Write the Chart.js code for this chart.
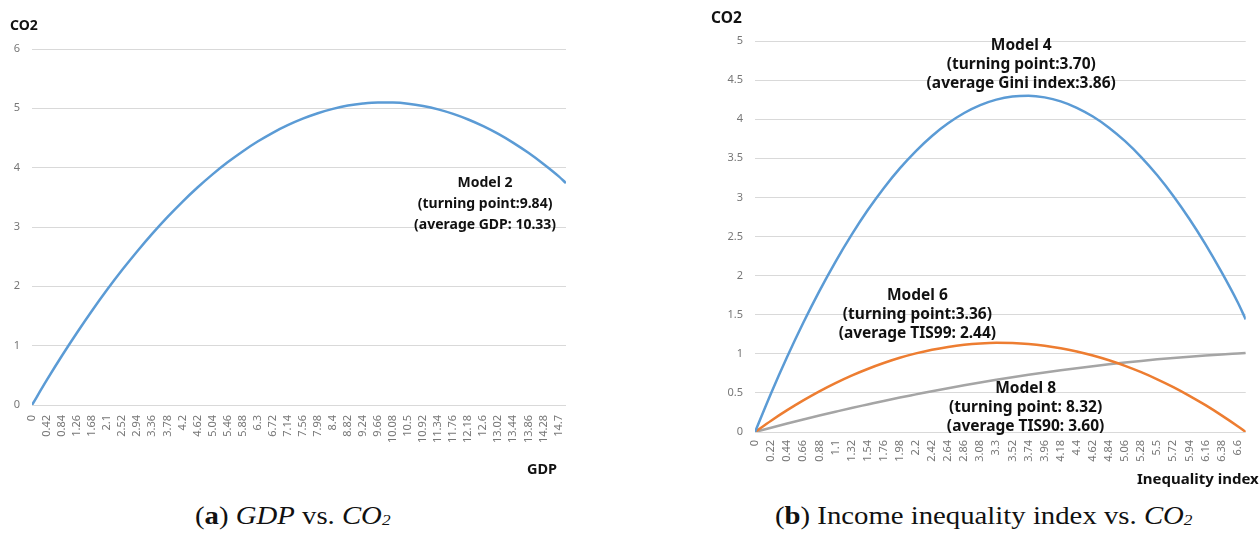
<!DOCTYPE html>
<html>
<head>
<meta charset="utf-8">
<script src="https://cdn.jsdelivr.net/npm/chart.js@4.4.1/dist/chart.umd.min.js"></script>
<style>
  html, body { margin: 0; padding: 0; background: #fff; }
  body { width: 1259px; height: 533px; position: relative; overflow: hidden; font-family: "Noto Sans", sans-serif; }
  canvas { position: absolute; top: 0; }
  .t { position: absolute; font-weight: bold; font-size: 14px; line-height: 18px; color: #111; white-space: nowrap; }
  .cap { position: absolute; top: 502px; font-family: "Liberation Serif", serif; font-size: 25px; line-height: 28px; color: #111; white-space: nowrap; transform: scaleX(1.15); transform-origin: left center; }
  .cap sub { font-size: 15px; vertical-align: -1px; }
</style>
</head>
<body>
<canvas id="gdpChart" width="600" height="500" style="left:0"></canvas>
<canvas id="ineqChart" width="599" height="500" style="left:660px"></canvas>

<div class="t" style="left:10px;top:16px">CO2</div>
<div class="t" style="left:527px;top:459px;font-size:14.5px">GDP</div>
<div class="t" style="left:711px;top:8px;font-size:15.5px">CO2</div>
<div class="t" style="left:1137px;top:469px;font-size:15px">Inequality index</div>

<div class="cap" style="left:195px">(<b>a</b>) <i>GDP</i> vs. <i>CO<sub>2</sub></i></div>
<div class="cap" style="left:775px">(<b>b</b>) Income inequality index vs. <i>CO<sub>2</sub></i></div>

<script>
// ---- Panel (a): GDP vs. CO2 ----
const gdpX = [0, 0.42, 0.84, 1.26, 1.68, 2.1, 2.52, 2.94, 3.36, 3.78, 4.2, 4.62, 5.04, 5.46, 5.88, 6.3,
  6.72, 7.14, 7.56, 7.98, 8.4, 8.82, 9.24, 9.66, 10.08, 10.5, 10.92, 11.34, 11.76, 12.18, 12.6,
  13.02, 13.44, 13.86, 14.28, 14.7, 14.91];
const model2 = [0, 0.426, 0.834, 1.222, 1.593, 1.945, 2.278, 2.592, 2.888, 3.166, 3.425, 3.665, 3.887,
  4.090, 4.274, 4.440, 4.588, 4.716, 4.826, 4.918, 4.991, 5.046, 5.081, 5.099, 5.097, 5.078, 5.039,
  4.982, 4.906, 4.812, 4.699, 4.568, 4.418, 4.250, 4.062, 3.857, 3.74];
const gdpTicks = [0, 0.42, 0.84, 1.26, 1.68, 2.1, 2.52, 2.94, 3.36, 3.78, 4.2, 4.62, 5.04, 5.46, 5.88, 6.3,
  6.72, 7.14, 7.56, 7.98, 8.4, 8.82, 9.24, 9.66, 10.08, 10.5, 10.92, 11.34, 11.76, 12.18, 12.6,
  13.02, 13.44, 13.86, 14.28, 14.7];
const gdpYTicks = [0, 1, 2, 3, 4, 5, 6];

// ---- Panel (b): income inequality index vs. CO2 ----
const ineqX = [0, 0.22, 0.44, 0.66, 0.88, 1.1, 1.32, 1.54, 1.76, 1.98, 2.2, 2.42, 2.64, 2.86, 3.08, 3.3,
  3.52, 3.74, 3.96, 4.18, 4.4, 4.62, 4.84, 5.06, 5.28, 5.5, 5.72, 5.94, 6.16, 6.38, 6.6, 6.71];
const model4 = [0, 0.496, 0.962, 1.397, 1.802, 2.177, 2.521, 2.835, 3.118, 3.371, 3.593, 3.786, 3.947,
  4.079, 4.180, 4.250, 4.290, 4.300, 4.279, 4.228, 4.146, 4.034, 3.892, 3.719, 3.516, 3.283, 3.019,
  2.724, 2.400, 2.044, 1.659, 1.44];
const model6 = [0, 0.145, 0.279, 0.404, 0.520, 0.625, 0.721, 0.806, 0.882, 0.949, 1.005, 1.052, 1.088,
  1.115, 1.132, 1.140, 1.137, 1.125, 1.103, 1.071, 1.029, 0.978, 0.917, 0.846, 0.765, 0.674, 0.574,
  0.463, 0.343, 0.213, 0.074, 0];
const model8 = [0, 0.055, 0.108, 0.160, 0.210, 0.259, 0.307, 0.352, 0.397, 0.440, 0.481, 0.522, 0.560,
  0.597, 0.633, 0.667, 0.700, 0.731, 0.761, 0.789, 0.816, 0.842, 0.866, 0.888, 0.909, 0.929, 0.947,
  0.963, 0.978, 0.992, 1.004, 1.010];
const ineqTicks = [0, 0.22, 0.44, 0.66, 0.88, 1.1, 1.32, 1.54, 1.76, 1.98, 2.2, 2.42, 2.64, 2.86, 3.08, 3.3,
  3.52, 3.74, 3.96, 4.18, 4.4, 4.62, 4.84, 5.06, 5.28, 5.5, 5.72, 5.94, 6.16, 6.38, 6.6];
const ineqYTicks = [0, 0.5, 1, 1.5, 2, 2.5, 3, 3.5, 4, 4.5, 5];

const BLUE = '#5B9BD5', ORANGE = '#ED7D31', GRAY = '#A5A5A5';
const FONT = '"Noto Sans", sans-serif';

function points(xs, ys) { return xs.map((x, i) => ({ x: x, y: ys[i] })); }

// Writes the bold model notes at a data-space anchor, one line per row.
const notesPlugin = {
  id: 'notes',
  afterDatasetsDraw(chart, args, opts) {
    const ctx = chart.ctx;
    const xs = chart.scales.x, ys = chart.scales.y;
    ctx.save();
    ctx.fillStyle = '#111';
    ctx.textAlign = 'center';
    ctx.textBaseline = 'middle';
    (opts.items || []).forEach(n => {
      ctx.font = 'bold ' + n.size + 'px ' + FONT;
      const px = xs.getPixelForValue(n.x), py = ys.getPixelForValue(n.y);
      n.lines.forEach((s, i) => ctx.fillText(s, px, py + i * n.lh));
    });
    ctx.restore();
  }
};

function build(id, cfg) {
  return new Chart(document.getElementById(id), {
    type: 'line',
    data: { datasets: cfg.datasets },
    options: {
      responsive: false,
      animation: false,
      events: [],
      layout: { padding: { left: 0, right: cfg.padRight, top: cfg.padTop, bottom: 0 } },
      elements: {
        point: { radius: 0 },
        line: { borderWidth: 2.5, tension: 0.4, cubicInterpolationMode: 'monotone' }
      },
      plugins: { legend: { display: false }, tooltip: { enabled: false }, notes: { items: cfg.notes } },
      scales: {
        x: {
          type: 'linear', min: 0, max: cfg.xMax,
          afterBuildTicks: s => { s.ticks = cfg.xTicks.map(v => ({ value: v })); },
          afterFit: s => { s.height = cfg.xAxisHeight; },
          grid: { display: false, drawTicks: false },
          border: { display: false },
          ticks: {
            autoSkip: false, minRotation: 90, maxRotation: 90, padding: cfg.xPad,
            color: '#777', font: { family: FONT, size: 11 },
            callback: v => String(v)
          }
        },
        y: {
          min: 0, max: cfg.yMax,
          afterBuildTicks: s => { s.ticks = cfg.yTicks.map(v => ({ value: v })); },
          afterFit: s => { s.width = cfg.yAxisWidth; },
          grid: { color: '#d9d9d9', lineWidth: 1, drawTicks: false },
          border: { display: false },
          ticks: {
            padding: 12, color: '#777', font: { family: FONT, size: 11 },
            callback: v => String(v)
          }
        }
      }
    },
    plugins: [notesPlugin]
  });
}

build('gdpChart', {
  datasets: [{ label: 'Model 2', data: points(gdpX, model2), borderColor: BLUE }],
  xTicks: gdpTicks, yTicks: gdpYTicks, xMax: 14.91, yMax: 6,
  yAxisWidth: 32, xAxisHeight: 95, padRight: 34, padTop: 49, xPad: 10,
  notes: [
    { x: 12.65, y: 3.74, size: 14, lh: 21,
      lines: ['Model 2', '(turning point:9.84)', '(average GDP: 10.33)'] }
  ]
});

build('ineqChart', {
  datasets: [
    { label: 'Model 4', data: points(ineqX, model4), borderColor: BLUE },
    { label: 'Model 6', data: points(ineqX, model6), borderColor: ORANGE },
    { label: 'Model 8', data: points(ineqX, model8), borderColor: GRAY }
  ],
  xTicks: ineqTicks, yTicks: ineqYTicks, xMax: 6.71, yMax: 5,
  yAxisWidth: 95, xAxisHeight: 68, padRight: 6, padTop: 41, xPad: 8,
  notes: [
    { x: 3.64, y: 4.94, size: 15.5, lh: 19,
      lines: ['Model 4', '(turning point:3.70)', '(average Gini index:3.86)'] },
    { x: 2.22, y: 1.75, size: 15.5, lh: 19,
      lines: ['Model 6', '(turning point:3.36)', '(average TIS99: 2.44)'] },
    { x: 3.70, y: 0.55, size: 15.5, lh: 19,
      lines: ['Model 8', '(turning point: 8.32)', '(average TIS90: 3.60)'] }
  ]
});
</script>
</body>
</html>
